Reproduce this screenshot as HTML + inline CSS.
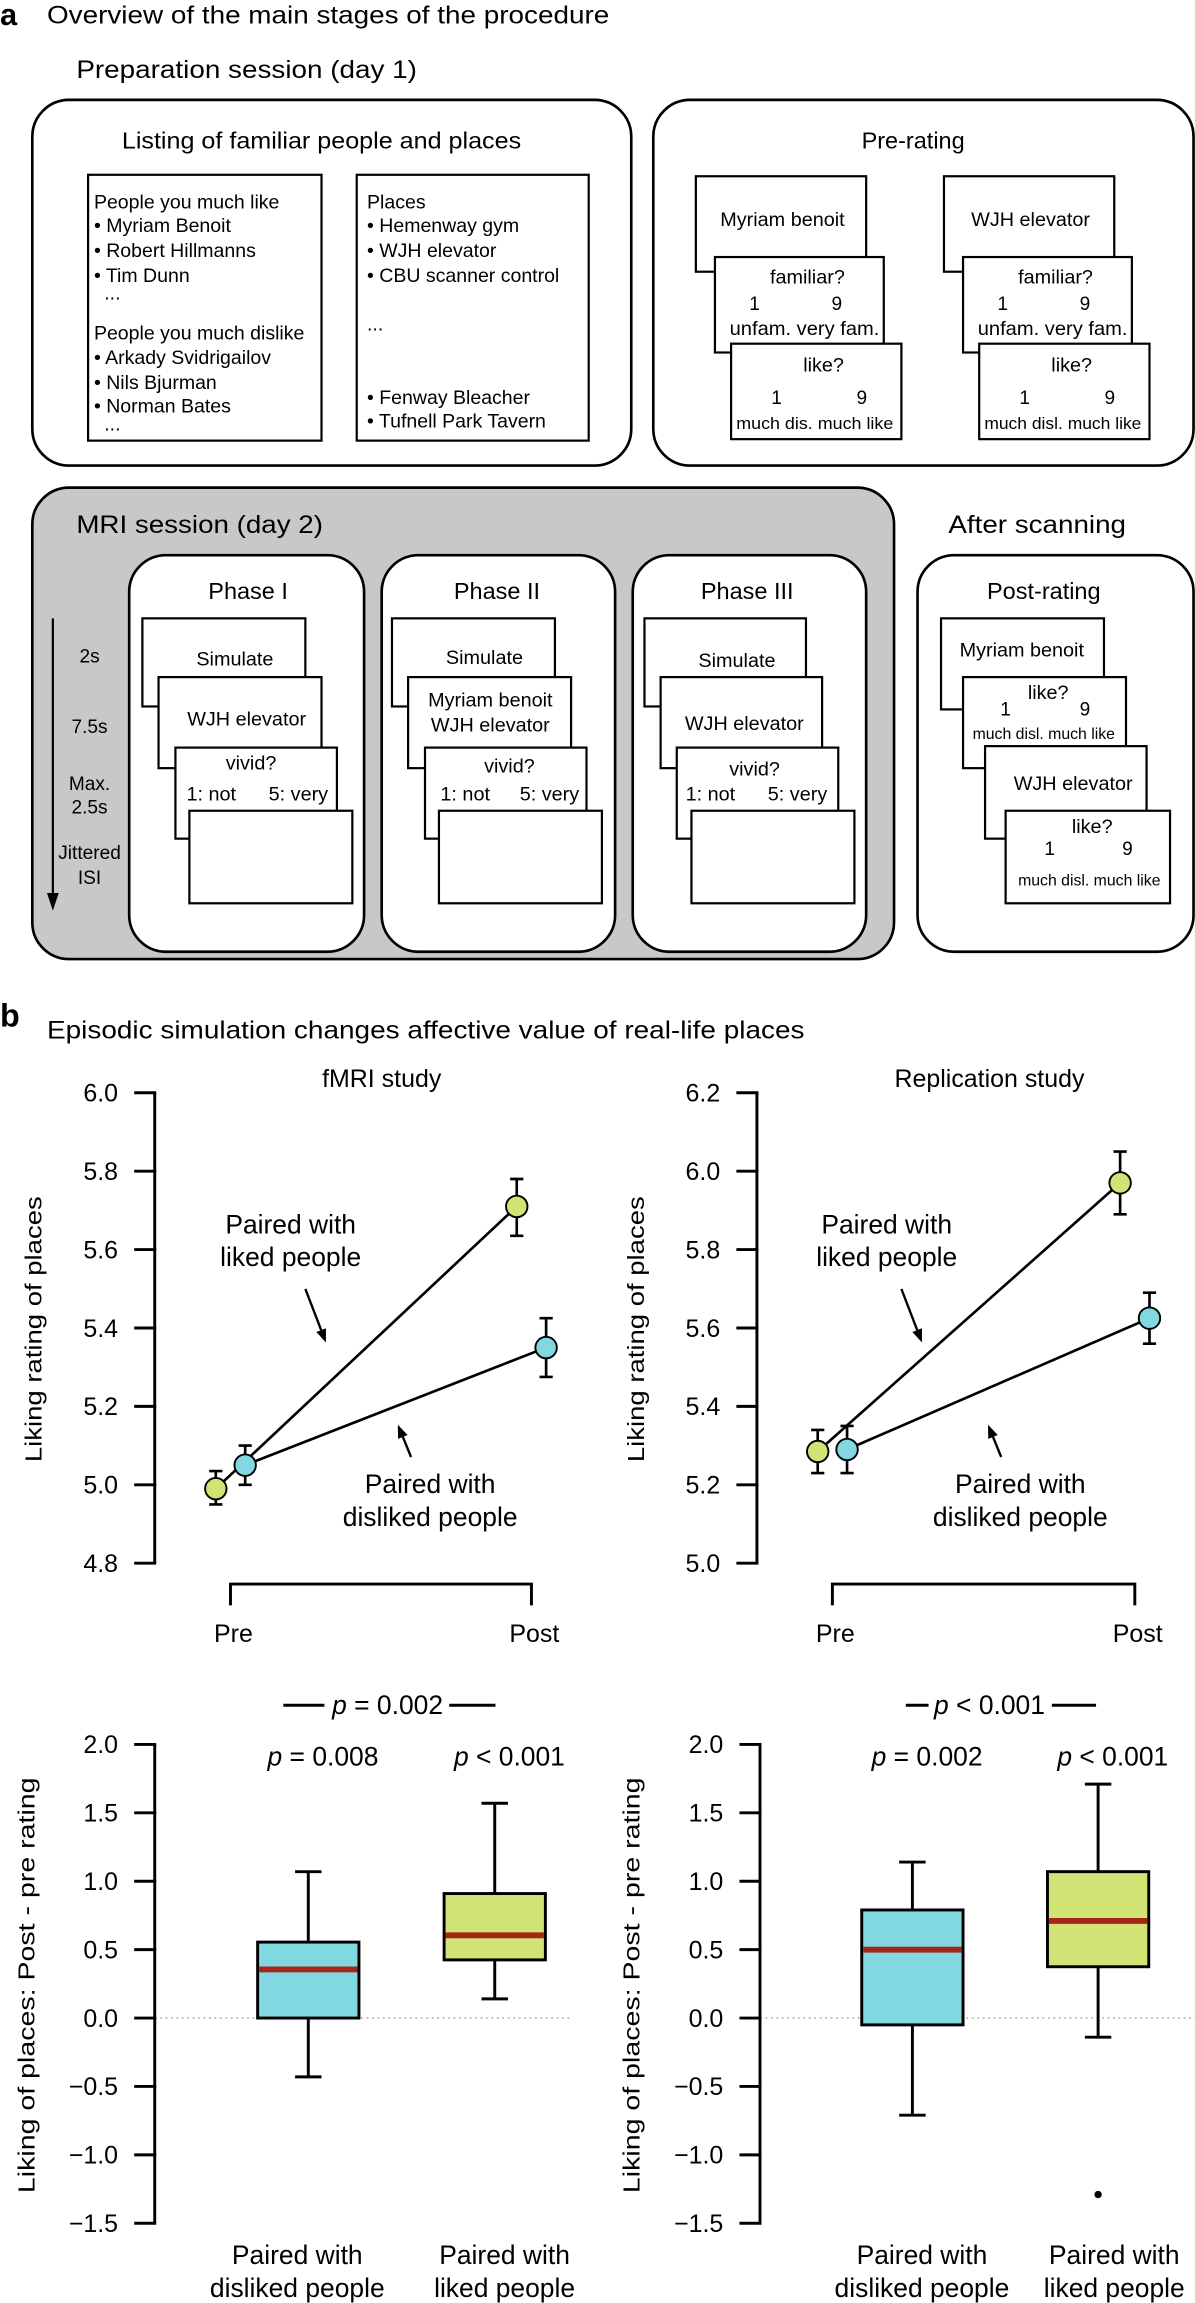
<!DOCTYPE html>
<html><head><meta charset="utf-8"><title>Procedure and results</title>
<style>
html,body{margin:0;padding:0;background:#fff;}
svg{display:block;font-family:"Liberation Sans",Arial,sans-serif;}
text{fill:#000;}
.bx{fill:#fff;stroke:#000;stroke-width:1.8;}
.cd{fill:#fff;stroke:#000;stroke-width:1.5;}
</style></head>
<body>
<svg id="fig" width="1195" height="2303" viewBox="0 0 814 1568" preserveAspectRatio="none" xmlns="http://www.w3.org/2000/svg">
<!-- PART A -->
<g>
<text x="0" y="17" font-size="21" font-weight="bold">a</text>
<text x="32" y="16" font-size="17" textLength="383" lengthAdjust="spacingAndGlyphs">Overview of the main stages of the procedure</text>
<text x="52" y="53" font-size="17" textLength="232" lengthAdjust="spacingAndGlyphs">Preparation session (day 1)</text>

<rect class="bx" x="22" y="68" width="408" height="249" rx="25"/>
<text x="83" y="101" font-size="15.5" textLength="272" lengthAdjust="spacingAndGlyphs">Listing of familiar people and places</text>
<rect class="cd" x="60" y="119" width="159" height="181"/>
<g font-size="13.3">
<text x="64" y="142">People you much like</text>
<text x="64" y="158">• Myriam Benoit</text>
<text x="64" y="175">• Robert Hillmanns</text>
<text x="64" y="192">• Tim Dunn</text>
<text x="71" y="204">...</text>
<text x="64" y="231">People you much dislike</text>
<text x="64" y="248">• Arkady Svidrigailov</text>
<text x="64" y="265">• Nils Bjurman</text>
<text x="64" y="281">• Norman Bates</text>
<text x="71" y="293">...</text>
</g>
<rect class="cd" x="243" y="119" width="158" height="181"/>
<g font-size="13.3">
<text x="250" y="142">Places</text>
<text x="250" y="158">• Hemenway gym</text>
<text x="250" y="175">• WJH elevator</text>
<text x="250" y="192">• CBU scanner control</text>
<text x="250" y="225">...</text>
<text x="250" y="275">• Fenway Bleacher</text>
<text x="250" y="291">• Tufnell Park Tavern</text>
</g>

<rect class="bx" x="445" y="68" width="368" height="249" rx="25"/>
<text x="622" y="101" font-size="16" text-anchor="middle">Pre-rating</text>
<g>
<rect class="cd" x="474" y="120" width="116" height="65"/>
<text x="533" y="154" font-size="13.5" text-anchor="middle">Myriam benoit</text>
<rect class="cd" x="487" y="175" width="115" height="65"/>
<text x="550" y="193" font-size="13.5" text-anchor="middle">familiar?</text>
<text x="514" y="211" font-size="13" text-anchor="middle">1</text>
<text x="570" y="211" font-size="13" text-anchor="middle">9</text>
<text x="548" y="228" font-size="13" text-anchor="middle" textLength="102" lengthAdjust="spacingAndGlyphs">unfam. very fam.</text>
<rect class="cd" x="498" y="234" width="116" height="65"/>
<text x="561" y="253" font-size="13.5" text-anchor="middle">like?</text>
<text x="529" y="275" font-size="13" text-anchor="middle">1</text>
<text x="587" y="275" font-size="13" text-anchor="middle">9</text>
<text x="555" y="292" font-size="11.5" text-anchor="middle" textLength="107" lengthAdjust="spacingAndGlyphs">much dis. much like</text>
</g>
<g transform="translate(169,0)">
<rect class="cd" x="474" y="120" width="116" height="65"/>
<text x="533" y="154" font-size="13.5" text-anchor="middle">WJH elevator</text>
<rect class="cd" x="487" y="175" width="115" height="65"/>
<text x="550" y="193" font-size="13.5" text-anchor="middle">familiar?</text>
<text x="514" y="211" font-size="13" text-anchor="middle">1</text>
<text x="570" y="211" font-size="13" text-anchor="middle">9</text>
<text x="548" y="228" font-size="13" text-anchor="middle" textLength="102" lengthAdjust="spacingAndGlyphs">unfam.  very fam.</text>
<rect class="cd" x="498" y="234" width="116" height="65"/>
<text x="561" y="253" font-size="13.5" text-anchor="middle">like?</text>
<text x="529" y="275" font-size="13" text-anchor="middle">1</text>
<text x="587" y="275" font-size="13" text-anchor="middle">9</text>
<text x="555" y="292" font-size="11.5" text-anchor="middle" textLength="107" lengthAdjust="spacingAndGlyphs">much disl. much like</text>
</g>

<rect x="22" y="332" width="587" height="321" rx="25" fill="#c8c8c8" stroke="#000" stroke-width="1.8"/>
<text x="52" y="363" font-size="17" textLength="168" lengthAdjust="spacingAndGlyphs">MRI session (day 2)</text>
<g>
<line x1="36" y1="421" x2="36" y2="612" stroke="#000" stroke-width="1.5"/>
<path d="M32,608 L36,620 L40,608 Z" fill="#000"/>
<g font-size="13" text-anchor="middle">
<text x="61" y="451">2s</text>
<text x="61" y="499">7.5s</text>
<text x="61" y="538">Max.</text>
<text x="61" y="554">2.5s</text>
<text x="61" y="585">Jittered</text>
<text x="61" y="602">ISI</text>
</g></g>

<g>
<rect class="bx" x="88" y="378" width="160" height="270" rx="25"/>
<text x="169" y="408" font-size="16" text-anchor="middle">Phase I</text>
<rect class="cd" x="97" y="421" width="111" height="60"/>
<text x="160" y="453" font-size="13.5" text-anchor="middle">Simulate</text>
<rect class="cd" x="108" y="461" width="111" height="62"/>
<text x="168" y="494" font-size="13.5" text-anchor="middle">WJH elevator</text>
<rect class="cd" x="119.5" y="509" width="110" height="62"/>
<text x="171" y="524" font-size="13.5" text-anchor="middle">vivid?</text>
<text x="127" y="545" font-size="13.5">1: not</text>
<text x="183" y="545" font-size="13.5">5: very</text>
<rect class="cd" x="129" y="552" width="111" height="63"/>
</g>
<g>
<rect class="bx" x="260" y="378" width="159" height="270" rx="25"/>
<text x="338.5" y="408" font-size="16" text-anchor="middle">Phase II</text>
<rect class="cd" x="267" y="421" width="111" height="60"/>
<text x="330" y="452" font-size="13.5" text-anchor="middle">Simulate</text>
<rect class="cd" x="278" y="461" width="111" height="62"/>
<text x="334" y="481" font-size="13.5" text-anchor="middle">Myriam benoit</text>
<text x="334" y="498" font-size="13.5" text-anchor="middle">WJH elevator</text>
<rect class="cd" x="289.5" y="509" width="110" height="62"/>
<text x="347" y="526" font-size="13.5" text-anchor="middle">vivid?</text>
<text x="300" y="545" font-size="13.5">1: not</text>
<text x="354" y="545" font-size="13.5">5: very</text>
<rect class="cd" x="299" y="552" width="111" height="63"/>
</g>
<g>
<rect class="bx" x="431" y="378" width="159" height="270" rx="25"/>
<text x="509" y="408" font-size="16" text-anchor="middle">Phase III</text>
<rect class="cd" x="439" y="421" width="110" height="60"/>
<text x="502" y="454" font-size="13.5" text-anchor="middle">Simulate</text>
<rect class="cd" x="450" y="461" width="110" height="62"/>
<text x="507" y="497" font-size="13.5" text-anchor="middle">WJH elevator</text>
<rect class="cd" x="461" y="509" width="110" height="62"/>
<text x="514" y="528" font-size="13.5" text-anchor="middle">vivid?</text>
<text x="467" y="545" font-size="13.5">1: not</text>
<text x="523" y="545" font-size="13.5">5: very</text>
<rect class="cd" x="471" y="552" width="111" height="63"/>
</g>

<text x="646" y="363" font-size="17" textLength="121" lengthAdjust="spacingAndGlyphs">After scanning</text>
<g>
<rect class="bx" x="625" y="378" width="188" height="270" rx="25"/>
<text x="711" y="408" font-size="16" text-anchor="middle">Post-rating</text>
<rect class="cd" x="641" y="421" width="111" height="62"/>
<text x="696" y="447" font-size="13.5" text-anchor="middle">Myriam benoit</text>
<rect class="cd" x="656" y="461" width="111" height="62"/>
<text x="714" y="476" font-size="13.5" text-anchor="middle">like?</text>
<text x="685" y="487" font-size="13" text-anchor="middle">1</text>
<text x="739" y="487" font-size="13" text-anchor="middle">9</text>
<text x="711" y="503" font-size="10.5" text-anchor="middle" textLength="97" lengthAdjust="spacingAndGlyphs">much disl. much like</text>
<rect class="cd" x="671" y="508" width="110" height="63"/>
<text x="731" y="538" font-size="13.5" text-anchor="middle">WJH elevator</text>
<rect class="cd" x="685" y="552" width="112" height="63"/>
<text x="744" y="567" font-size="13.5" text-anchor="middle">like?</text>
<text x="715" y="582" font-size="13" text-anchor="middle">1</text>
<text x="768" y="582" font-size="13" text-anchor="middle">9</text>
<text x="742" y="603" font-size="10.5" text-anchor="middle" textLength="97" lengthAdjust="spacingAndGlyphs">much disl. much like</text>
</g>
</g>

<!-- PART B -->
<g>
<text x="0" y="699" font-size="22" font-weight="bold">b</text>
<text x="32" y="707" font-size="17" textLength="516" lengthAdjust="spacingAndGlyphs">Episodic simulation changes affective value of real-life places</text>
</g>
<g id="charts"></g>
</svg>

<script>
// ---- data ----
const lineCategories = ["Pre", "Post"];
const fmriLikedMean = [4.99, 5.71];
const fmriLikedLo = [4.95, 5.635];
const fmriLikedHi = [5.035, 5.78];
const fmriDislikedMean = [5.05, 5.35];
const fmriDislikedLo = [5.0, 5.275];
const fmriDislikedHi = [5.10, 5.425];
const repLikedMean = [5.285, 5.97];
const repLikedLo = [5.23, 5.89];
const repLikedHi = [5.34, 6.05];
const repDislikedMean = [5.29, 5.625];
const repDislikedLo = [5.23, 5.56];
const repDislikedHi = [5.35, 5.69];
const fmriLineTicks = ["4.8", "5.0", "5.2", "5.4", "5.6", "5.8", "6.0"];
const repLineTicks = ["5.0", "5.2", "5.4", "5.6", "5.8", "6.0", "6.2"];
const boxCategories = ["Paired with|disliked people", "Paired with|liked people"];
// [min, q1, median, q3, max]
const fmriDislikedBox = [-0.43, 0.0, 0.355, 0.555, 1.07];
const fmriLikedBox = [0.14, 0.425, 0.605, 0.91, 1.57];
const repDislikedBox = [-0.71, -0.05, 0.5, 0.79, 1.14];
const repLikedBox = [-0.14, 0.375, 0.71, 1.07, 1.71];
const fmriOutliers = [];
const repOutliers = [-1.29];
const boxTicks = ["-1.5", "-1.0", "-0.5", "0.0", "0.5", "1.0", "1.5", "2.0"];
const fmriPValues = ["= 0.008", "< 0.001", "= 0.002"];
const repPValues = ["= 0.002", "< 0.001", "< 0.001"];

const NS = "http://www.w3.org/2000/svg";
const root = document.getElementById("charts");
function mk(tag, attrs, parent) {
  const e = document.createElementNS(NS, tag);
  for (const k in attrs) e.setAttribute(k, attrs[k]);
  (parent || root).appendChild(e);
  return e;
}
function scale(d0, d1, r0, r1) { return v => r0 + (v - d0) * (r1 - r0) / (d1 - d0); }
const GREEN = "#d0e374", CYAN = "#82d8e0";

function yAxis(g, ax, ticks, y, top, bot) {
  const a = mk("line", {x1: ax, y1: top, x2: ax, y2: bot, stroke: "#000", "stroke-width": 2}, g);
  
  
  ticks.forEach(t => {
    const v = parseFloat(t), py = y(v);
    const tk = mk("line", {x1: ax - 14, y1: py, x2: ax + 1, y2: py, stroke: "#000", "stroke-width": 2}, g);
    
    
    const lb = mk("text", {x: ax - 25, y: py + 6, "font-size": 17, "text-anchor": "end"}, g);
    
    
    lb.textContent = t.replace("-", "\u2212");
  });
}
function yTitle(g, x, cy, txt, len) {
  const t = mk("text", {x: 0, y: 0, "font-size": 15.5, "text-anchor": "middle",
    transform: "translate(" + x + "," + cy + ") rotate(-90)", textLength: len, lengthAdjust: "spacingAndGlyphs"}, g);
  
  
  t.textContent = txt;
}
function label2(g, cx, y1, y2, l1, l2, name) {
  const t = mk("text", {x: cx, y: y1, "font-size": 18, "text-anchor": "middle"}, g);
  
  
  t.textContent = l1;
  const t2 = mk("text", {x: cx, y: y2, "font-size": 18, "text-anchor": "middle"}, g);
  
  
  t2.textContent = l2;
}
function arrow(g, x1, y1, x2, y2) {
  const dx = x2 - x1, dy = y2 - y1, L = Math.hypot(dx, dy), ux = dx / L, uy = dy / L;
  const bx = x2 - ux * 9, by = y2 - uy * 9;
  const l = mk("line", {x1: x1, y1: y1, x2: bx, y2: by, stroke: "#000", "stroke-width": 1.6}, g);
  
  
  const p = mk("path", {d: "M" + x2 + "," + y2 + " L" + (bx - uy * 3.5) + "," + (by + ux * 3.5) + " L" + (bx + uy * 3.5) + "," + (by - ux * 3.5) + "Z", fill: "#000"}, g);
  
  
}

function lineChart(cfg) {
  const g = mk("g", {});
  
  
  const y = scale(parseFloat(cfg.ticks[0]), parseFloat(cfg.ticks[cfg.ticks.length - 1]), 1064.3, 744);
  yAxis(g, cfg.ax, cfg.ticks, y, 744, 1064.3);
  yTitle(g, cfg.ax - 77, 905, "Liking rating of places", 181);
  const tt = mk("text", {x: cfg.titleX, y: 740, "font-size": 17, "text-anchor": "middle"}, g);
  
  
  tt.textContent = cfg.title;
  const x = i => cfg.x0 + i * (cfg.x1 - cfg.x0);
  const br = mk("path", {d: "M" + x(0) + ",1093 V1078.5 H" + x(1) + " V1093", fill: "none", stroke: "#000", "stroke-width": 2}, g);
  
  
  lineCategories.forEach((c, i) => {
    const t = mk("text", {x: x(i) + 2, y: 1118, "font-size": 17, "text-anchor": "middle"}, g);
    
    
    t.textContent = c;
  });
  const series = [
    {m: cfg.likedM, lo: cfg.likedLo, hi: cfg.likedHi, off: -10, col: GREEN, n: "liked"},
    {m: cfg.disM, lo: cfg.disLo, hi: cfg.disHi, off: 10, col: CYAN, n: "disliked"}];
  series.forEach(s => {
    const ln = mk("line", {x1: x(0) + s.off, y1: y(s.m[0]), x2: x(1) + s.off, y2: y(s.m[1]), stroke: "#000", "stroke-width": 1.8}, g);
    
    
  });
  series.forEach(s => {
    s.m.forEach((v, i) => {
      const px = x(i) + s.off;
      const eb = mk("path", {d: "M" + (px - 4.5) + "," + y(s.hi[i]) + " H" + (px + 4.5) + " M" + px + "," + y(s.hi[i]) + " V" + y(s.lo[i]) + " M" + (px - 4.5) + "," + y(s.lo[i]) + " H" + (px + 4.5), stroke: "#000", "stroke-width": 1.8, fill: "none"}, g);
      
      
      const c = mk("circle", {cx: px, cy: y(v), r: 7.3, fill: s.col, stroke: "#000", "stroke-width": 1.3}, g);
      
      
    });
  });
  label2(g, cfg.likedLabelX, 840, 862, "Paired with", "liked people", "annotation-liked");
  arrow(g, cfg.likedLabelX + 10, 877.6, cfg.likedLabelX + 24, 914);
  label2(g, cfg.disLabelX, 1016.5, 1039, "Paired with", "disliked people", "annotation-disliked");
  arrow(g, cfg.disLabelX - 13, 992, cfg.disLabelX - 22, 970);
}

function boxChart(cfg) {
  const g = mk("g", {});
  
  
  const y = scale(-1.5, 2.0, 1513.7, 1187.7);
  const z = mk("line", {x1: cfg.ax, y1: y(0), x2: cfg.zEnd, y2: y(0), stroke: "#aaa", "stroke-width": 1, "stroke-dasharray": "1.2,2.5"}, g);
  
  
  yAxis(g, cfg.ax, boxTicks, y, 1187.7, 1513.7);
  yTitle(g, cfg.ax - 82, 1351.7, "Liking of places: Post - pre rating", 283);
  const boxes = [{d: cfg.dis, col: CYAN, n: "disliked"}, {d: cfg.lik, col: GREEN, n: "liked"}];
  boxes.forEach((b, i) => {
    const cx = cfg.cx[i], hw = 34.5, d = b.d;
    const w = mk("path", {d: "M" + (cx - 0) + "," + y(d[4]) + " V" + y(d[3]) + " M" + cx + "," + y(d[1]) + " V" + y(d[0]) + " M" + (cx - 9) + "," + y(d[4]) + " H" + (cx + 9) + " M" + (cx - 9) + "," + y(d[0]) + " H" + (cx + 9), stroke: "#000", "stroke-width": 2, fill: "none"}, g);
    
    
    const r = mk("rect", {x: cx - hw, y: y(d[3]), width: hw * 2, height: y(d[1]) - y(d[3]), fill: b.col, stroke: "#000", "stroke-width": 2}, g);
    
    
    const m = mk("line", {x1: cx - hw + 1, y1: y(d[2]), x2: cx + hw - 1, y2: y(d[2]), stroke: "#a52618", "stroke-width": 4}, g);
    
    
    const p = mk("text", {x: cx + 10, y: 1202, "font-size": 18, "text-anchor": "middle"}, g);
    
    
    const ti = mk("tspan", {"font-style": "italic"}, p); ti.textContent = "p";
    const tr = mk("tspan", {}, p); tr.textContent = " " + cfg.p[i];
    const parts = boxCategories[i].split("|");
    label2(g, cfg.lx[i], 1541.6, 1564, parts[0], parts[1], "x-tick-label");
  });
  cfg.outliers.forEach(v => {
    const o = mk("circle", {cx: cfg.cx[1], cy: y(v), r: 2.5, fill: "#000"}, g);
    
    
  });
  const pm = cfg.pMid;
  const cmp = mk("text", {x: pm.x, y: 1167, "font-size": 18, "text-anchor": "middle"}, g);
  
  
  const ci = mk("tspan", {"font-style": "italic"}, cmp); ci.textContent = "p";
  const cr = mk("tspan", {}, cmp); cr.textContent = " " + cfg.p[2];
  const bl = mk("path", {d: "M" + pm.l0 + ",1161 H" + pm.l1 + " M" + pm.r0 + ",1161 H" + pm.r1, stroke: "#000", "stroke-width": 2}, g);
  
  
}

lineChart({name: "fmri-line-chart", ax: 105.4, ticks: fmriLineTicks, title: "fMRI study", titleX: 260, x0: 157, x1: 362,
  likedM: fmriLikedMean, likedLo: fmriLikedLo, likedHi: fmriLikedHi, disM: fmriDislikedMean, disLo: fmriDislikedLo, disHi: fmriDislikedHi,
  likedLabelX: 198, disLabelX: 293});
lineChart({name: "replication-line-chart", ax: 515.6, ticks: repLineTicks, title: "Replication study", titleX: 674, x0: 567, x1: 773,
  likedM: repLikedMean, likedLo: repLikedLo, likedHi: repLikedHi, disM: repDislikedMean, disLo: repDislikedLo, disHi: repDislikedHi,
  likedLabelX: 604, disLabelX: 695});
boxChart({name: "fmri-box-chart", ax: 105.4, zEnd: 390, cx: [210, 337], lx: [202.5, 343.7], dis: fmriDislikedBox, lik: fmriLikedBox,
  outliers: fmriOutliers, p: fmriPValues, pMid: {x: 264, l0: 193, l1: 221, r0: 306, r1: 337.5}});
boxChart({name: "replication-box-chart", ax: 517.7, zEnd: 814, cx: [621.5, 748], lx: [628, 759], dis: repDislikedBox, lik: repLikedBox,
  outliers: repOutliers, p: repPValues, pMid: {x: 674, l0: 617, l1: 632.5, r0: 716.5, r1: 746.6}});
</script>
</body></html>
